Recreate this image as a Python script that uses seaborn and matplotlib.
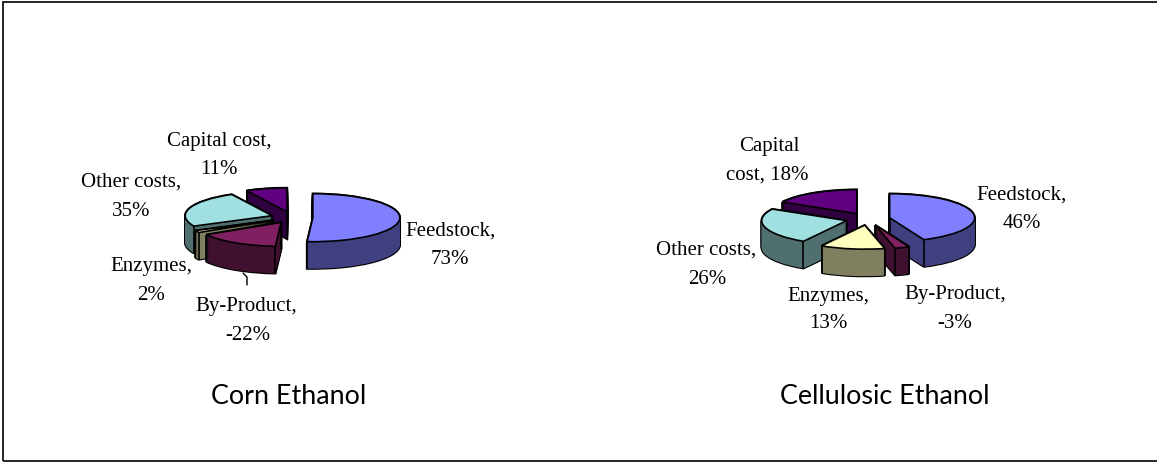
import matplotlib
matplotlib.use("Agg")
import matplotlib.pyplot as plt
from matplotlib.lines import Line2D
from matplotlib.patches import Rectangle
import numpy as np
import seaborn as sns

# Data
categories = ["Feedstock", "By-Product", "Enzymes", "Other costs", "Capital cost"]
corn_values = [73, -22, 2, 35, 11]
cellulosic_values = [46, -3, 13, 26, 18]
top_colors = ["#8080FF", "#802060", "#FFFFC0", "#A0E0E0", "#600080"]
side_colors = ["#404080", "#401030", "#808060", "#507070", "#300040"]

W, H = 1157, 462
DPI = 100

sns.set_theme(style="white")
plt.rcParams["font.family"] = "Liberation Serif"

fig = plt.figure(figsize=(W / DPI, H / DPI), dpi=DPI, facecolor="white")


def px_text(x, y, s, **kw):
    fig.text(x / W, 1 - (y + 2) / H, s, ha="center", va="center", color="black", **kw)


def inside_wedge(w, x, y):
    dx, dy = x - w.center[0], y - w.center[1]
    if np.hypot(dx, dy) >= w.r:
        return False
    ang = np.degrees(np.arctan2(dy, dx))
    return (ang - w.theta1) % 360 < (w.theta2 - w.theta1)


def pie_3d(values, cx, cy, rx, ry, depth, explode):
    # axes is placed so one data unit is rx pixels wide and ry pixels high
    xlim = 1.5
    ylim_top = 1.5
    ylim_bot = 1.5 + depth / ry
    ax = fig.add_axes([(cx - xlim * rx) / W, 1 - (cy + ylim_bot * ry) / H,
                       2 * xlim * rx / W, (ylim_top + ylim_bot) * ry / H])
    sizes = np.abs(values)
    expl = [explode] * len(sizes)
    n_layers = int(depth) + 1
    offsets = np.linspace(-depth / ry, 0, n_layers)

    # back slices are drawn first
    fracs = np.cumsum(sizes) - sizes / 2
    fronts = np.cos(2 * np.pi * fracs / sizes.sum())
    rank = {i: r for r, i in enumerate(np.argsort(-fronts))}

    for off in offsets:
        # black stack first, it leaves the outline round the dark one
        wedges, _ = ax.pie(sizes, explode=expl, startangle=90, counterclock=False,
                           center=(0, off), colors=["black"] * len(sizes),
                           wedgeprops={"edgecolor": "black", "linewidth": 1.6})
        for i, w in enumerate(wedges):
            w.set_zorder(10 + rank[i] * 10)
        wedges, _ = ax.pie(sizes, explode=expl, startangle=90, counterclock=False,
                           center=(0, off), colors=side_colors,
                           wedgeprops={"linewidth": 0})
        for i, w in enumerate(wedges):
            w.set_zorder(11 + rank[i] * 10)

    wedges, _ = ax.pie(sizes, explode=expl, startangle=90, counterclock=False,
                       center=(0, 0), colors=top_colors,
                       wedgeprops={"edgecolor": "black", "linewidth": 1.2})
    for i, w in enumerate(wedges):
        w.set_zorder(13 + rank[i] * 10)
        # seams between the cut faces and the rim, only where the top face does not hide them
        x0, y0 = w.center
        pts = [(x0, y0)]
        for a in (w.theta1, w.theta2):
            pts.append((x0 + w.r * np.cos(np.radians(a)), y0 + w.r * np.sin(np.radians(a))))
        for px, py in pts:
            if inside_wedge(w, px, py - 0.02):
                continue
            ax.plot([px, px], [py, py - depth / ry], color="black", lw=1.2,
                    zorder=12 + rank[i] * 10, solid_capstyle="butt")

    ax.set_aspect("auto")
    ax.set_xlim(-xlim, xlim)
    ax.set_ylim(-ylim_bot, ylim_top)
    ax.axis("off")


pie_3d(corn_values, 292, 217.5, 87, 24, 27, 0.24)
pie_3d(cellulosic_values, 868, 219, 85, 24, 27, 0.26)

# labels
fs = 15
px_text(219, 140, "Capital cost,", fontsize=fs)
px_text(219, 168, "11%", fontsize=fs)
px_text(131, 180, "Other costs,", fontsize=fs)
px_text(131, 209, "35%", fontsize=fs)
px_text(451, 229, "Feedstock,", fontsize=fs)
px_text(450, 257, "73%", fontsize=fs)
px_text(151, 264, "Enzymes,", fontsize=fs)
px_text(151, 293, "2%", fontsize=fs)
px_text(246, 304, "By-Product,", fontsize=fs)
px_text(248, 333, "-22%", fontsize=fs)

px_text(769, 145, "Capital", fontsize=fs)
px_text(767, 173, "cost, 18%", fontsize=fs)
px_text(1022, 193, "Feedstock,", fontsize=fs)
px_text(1022, 222, "46%", fontsize=fs)
px_text(706, 248, "Other costs,", fontsize=fs)
px_text(707, 277, "26%", fontsize=fs)
px_text(828, 295, "Enzymes,", fontsize=fs)
px_text(828, 322, "13%", fontsize=fs)
px_text(955, 293, "By-Product,", fontsize=fs)
px_text(955, 321, "-3%", fontsize=fs)

px_text(289, 394, "Corn Ethanol", fontsize=19.4, family="Lato")
px_text(885, 394, "Cellulosic Ethanol", fontsize=19.4, family="Lato")

# leader of the corn by-product label
fig.add_artist(Line2D(np.array([243, 247, 247]) / W, 1 - np.array([273, 277, 285]) / H,
                      color="black", lw=1))

# chart frame, its right side is cut off by the picture edge
fig.add_artist(Rectangle((3 / W, 1 - 461 / H), 1160 / W, 459 / H, fill=False,
                         edgecolor="black", lw=1.2, transform=fig.transFigure))

fig.savefig("out.png", dpi=DPI)
